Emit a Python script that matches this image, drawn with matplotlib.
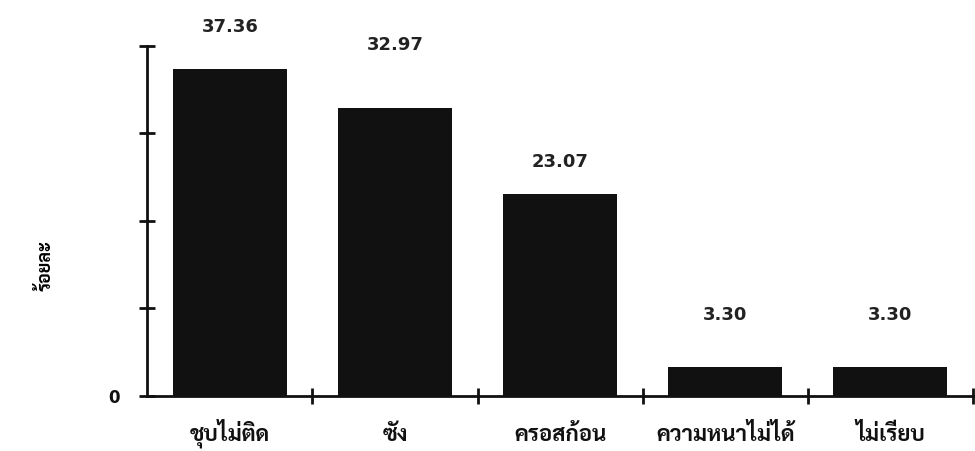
import matplotlib
matplotlib.use("Agg")
import matplotlib.pyplot as plt

# data
categories = ["ชุบไม่ติด", "ซัง", "ครอสก้อน", "ความหนาไม่ได้", "ไม่เรียบ"]
percent = [37.36, 32.97, 23.07, 3.30, 3.30]
value_labels = ["37.36", "32.97", "23.07", "3.30", "3.30"]
y_ticks = [0, 10, 20, 30, 40]
y_tick_labels = ["0", "", "", "", ""]

# how far each value label sits above its bar (pixels, as in the scan)
label_gap = [42, 63, 32, 52, 52]

thai = ["Sarabun", "Noto Sans Thai Looped", "Noto Sans Thai", "DejaVu Sans"]

fig = plt.figure(figsize=(9.75, 4.51), dpi=100)
ax = fig.add_axes([0.151, 0.122, 0.847, 0.776])

x = list(range(len(categories)))
ax.bar(x, percent, width=0.69, color="#111111", zorder=2)

for xi, v, lab, gap in zip(x, percent, value_labels, label_gap):
    ax.annotate(lab, (xi, v), xytext=(0, gap * 0.72), textcoords="offset points",
                ha="center", va="center", fontsize=13, fontweight="bold",
                family="DejaVu Sans", color="#222222")

ax.set_xlim(-0.5, len(categories) - 0.5)
ax.set_ylim(0, 40)

for s in ["top", "right"]:
    ax.spines[s].set_visible(False)
for s in ["left", "bottom"]:
    ax.spines[s].set_linewidth(2.0)
    ax.spines[s].set_color("#111111")

ax.set_yticks(y_ticks)
ax.set_yticklabels(y_tick_labels, fontsize=12, fontweight="bold", family="DejaVu Sans")
ax.tick_params(axis="y", direction="inout", length=12, width=2, pad=14, colors="#111111")

# boundary ticks between categories, names in the middle
ax.set_xticks([i + 0.5 for i in x])
ax.set_xticklabels([])
ax.tick_params(axis="x", direction="inout", length=12, width=2, colors="#111111")
for xi, name in zip(x, categories):
    ax.text(xi, -0.128, name, transform=ax.get_xaxis_transform(), ha="center",
            va="baseline", fontsize=16, fontweight="bold", family=thai, color="#111111")

ax.text(-0.123, 0.374, "ร้อยละ", transform=ax.transAxes, rotation=90,
        ha="center", va="center", fontsize=13, fontweight="bold", family=thai)

fig.savefig("out.png", dpi=100)
